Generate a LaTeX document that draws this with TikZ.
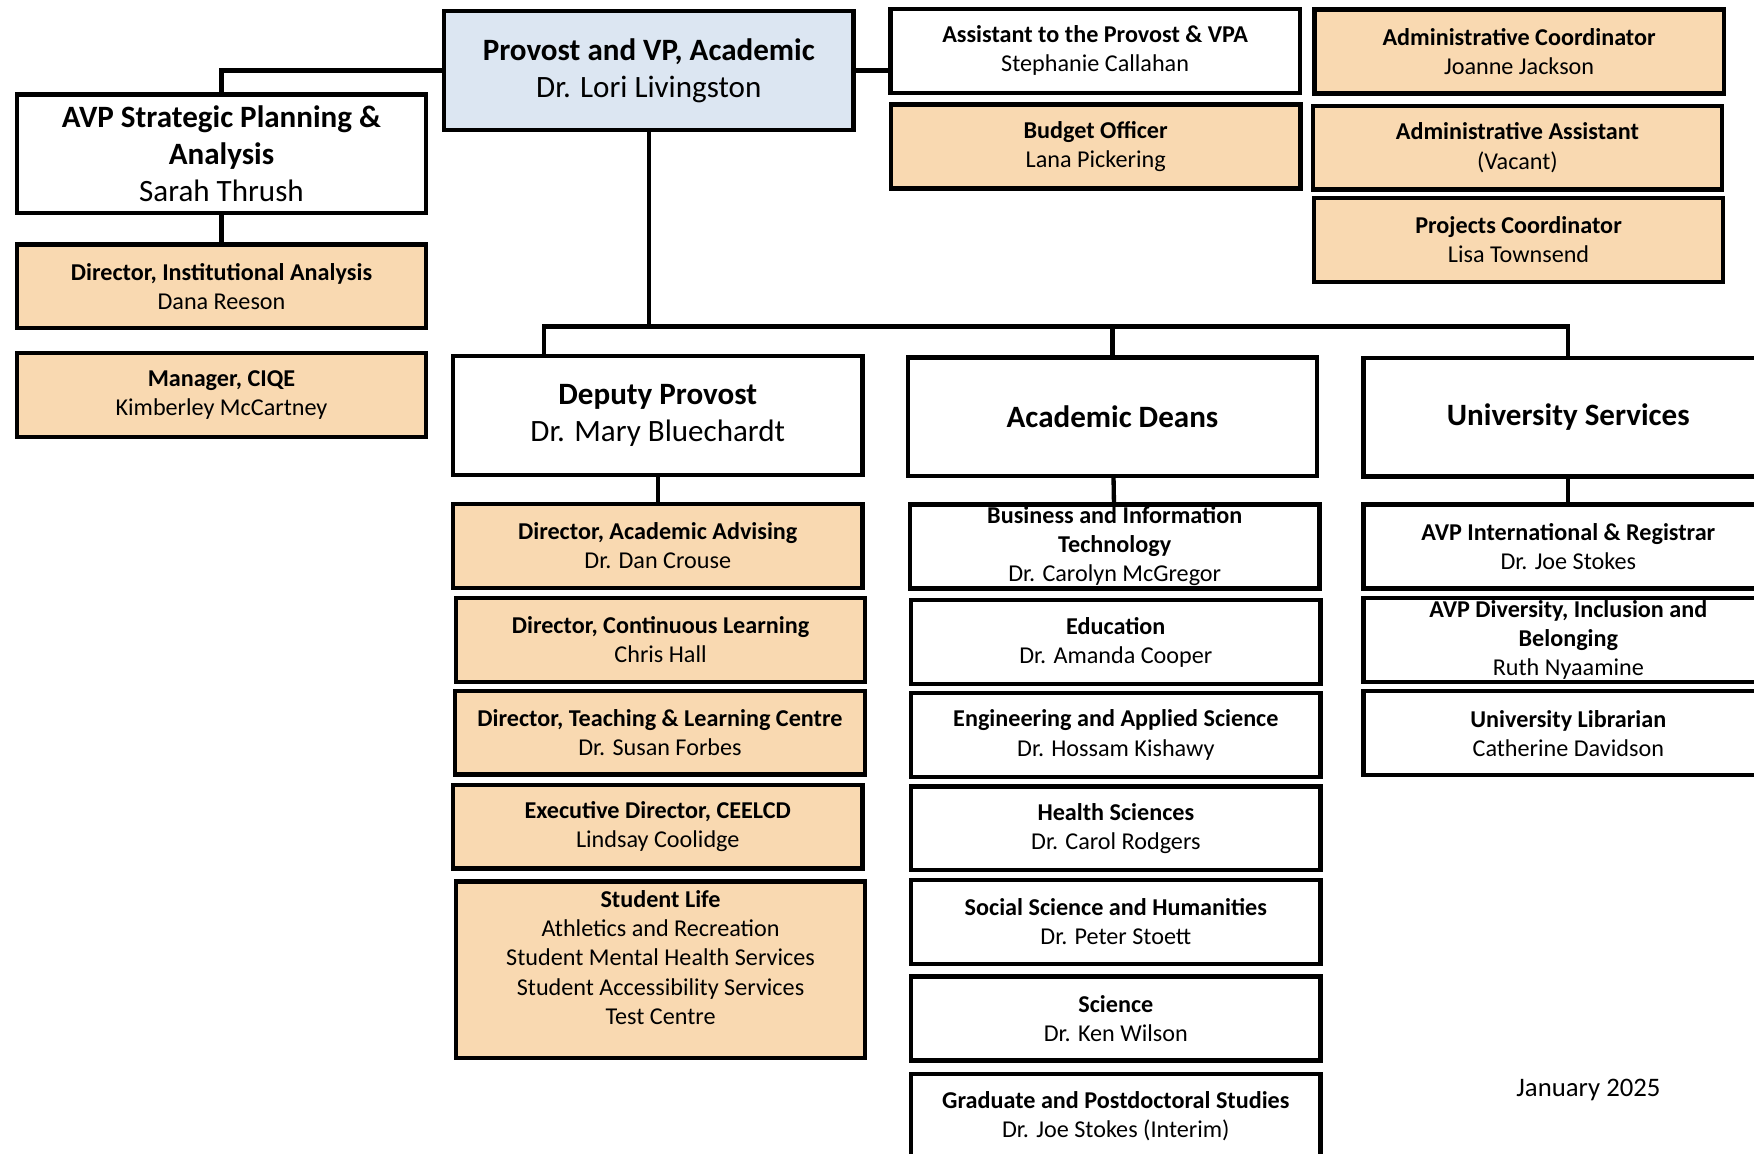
\documentclass[tikz,border=0pt]{standalone}
\usepackage{fontspec}
\setmainfont{Carlito}
\definecolor{peach}{RGB}{249,217,177}
\definecolor{paleblue}{RGB}{220,230,242}
\begin{document}
\begin{tikzpicture}[x=0.02cm, y=-0.02cm,
    boxstyle/.style={draw, line width=2.2pt, minimum width=7.32cm, minimum height=1.5cm, inner sep=0pt, align=center, font=\fontsize{12.3}{14.8}\selectfont},
    bigbox/.style={boxstyle, minimum height=2.12cm, font=\fontsize{15.8}{18.8}\selectfont},
    orangebox/.style={boxstyle, fill=peach},
    linkstyle/.style={line width=2.2pt}]
    \useasboundingbox (0,0) rectangle (1568,1031);
    \clip (0,0) rectangle (1568,1031);

    % top level
    \node[bigbox, fill=paleblue] (provost) at (580,63) {\textbf{Provost and VP, Academic}\\Dr. Lori Livingston};
    \node[boxstyle] (assist) at (979,45.5) {\textbf{Assistant to the Provost \& VPA}\\Stephanie Callahan};
    \node[orangebox] (budget) at (979.5,131) {\textbf{Budget Officer}\\Lana Pickering};
    \node[orangebox] (admcoord) at (1358,46) {\textbf{Administrative Coordinator}\\Joanne Jackson};
    \node[orangebox] (admasst) at (1356.5,132) {\textbf{Administrative Assistant}\\(Vacant)};
    \node[orangebox] (projcoord) at (1357.5,214.5) {\textbf{Projects Coordinator}\\Lisa Townsend};

    % strategic planning
    \node[bigbox] (avpspa) at (198,137.5) {\textbf{AVP Strategic Planning \&}\\\textbf{Analysis}\\Sarah Thrush};
    \node[orangebox] (dirinst) at (198,256) {\textbf{Director, Institutional Analysis}\\Dana Reeson};
    \node[orangebox] (mgrciqe) at (198,353) {\textbf{Manager, CIQE}\\Kimberley McCartney};

    % second level
    \node[bigbox] (deputy) at (588,371.5) {\textbf{Deputy Provost}\\Dr. Mary Bluechardt};
    \node[bigbox] (deans) at (994.5,372.5) {\textbf{Academic Deans}};
    \node[bigbox] (univ) at (1402,373) {\textbf{University Services}};

    % deputy provost column
    \foreach \n/\x/\y/\t/\p in {advising/588/488/{Director, Academic Advising}/Dr. Dan Crouse,
                                contlearn/590.5/572/{Director, Continuous Learning}/Chris Hall,
                                tlc/590/655/{Director, Teaching \& Learning Centre}/Dr. Susan Forbes,
                                ceelcd/588/739/{Executive Director, CEELCD}/Lindsay Coolidge}{
            \node[orangebox] (\n) at (\x,\y) {\textbf{\t}\\\p};
        }
    \node[orangebox, minimum height=3.16cm] (studlife) at (590.5,867) {};
    \node[align=center, inner sep=0pt, font=\fontsize{12.3}{14.8}\selectfont] (studlifetext) at (590.5,856)
        {\textbf{Student Life}\\Athletics and Recreation\\Student Mental Health Services\\Student Accessibility Services\\Test Centre};

    % deans column
    \node[boxstyle] (bit) at (996.5,488.5) {\textbf{Business and Information}\\\textbf{Technology}\\Dr. Carolyn McGregor};
    \foreach \n/\y/\t/\p in {edu/574/Education/Dr. Amanda Cooper,
                             eng/657/Engineering and Applied Science/Dr. Hossam Kishawy,
                             health/740.5/Health Sciences/Dr. Carol Rodgers,
                             social/824/Social Science and Humanities/Dr. Peter Stoett,
                             science/910.5/Science/Dr. Ken Wilson,
                             grad/997.5/Graduate and Postdoctoral Studies/{Dr. Joe Stokes (Interim)}}{
            \node[boxstyle] (\n) at (997.5,\y) {\textbf{\t}\\\p};
        }

    % university services column
    \node[boxstyle] (intl) at (1402,488.5) {\textbf{AVP International \& Registrar}\\Dr. Joe Stokes};
    \node[boxstyle] (diversity) at (1402,572) {\textbf{AVP Diversity, Inclusion and}\\\textbf{Belonging}\\Ruth Nyaamine};
    \node[boxstyle] (librarian) at (1402,655.5) {\textbf{University Librarian}\\Catherine Davidson};

    \node[font=\fontsize{13.6}{16}\selectfont] (date) at (1420,974) {January 2025};

    % connectors
    \coordinate (busbar) at (580,292);
    \draw[linkstyle] (provost.west) -| (avpspa.north);
    \draw[linkstyle] (avpspa) -- (dirinst);
    \draw[linkstyle] (provost.east) -- (provost.east -| assist.west);
    \draw[linkstyle] (provost) -- (busbar);
    \draw[linkstyle] ([xshift=-2.04cm]deputy.north) |- (busbar) -| (univ.north);
    \draw[linkstyle] (deans.north) -- (deans.north |- busbar);
    \draw[linkstyle] (deputy) -- (advising);
    \draw[linkstyle] (deans) -- (bit);
    \draw[linkstyle] (univ) -- (intl);
\end{tikzpicture}
\end{document}
